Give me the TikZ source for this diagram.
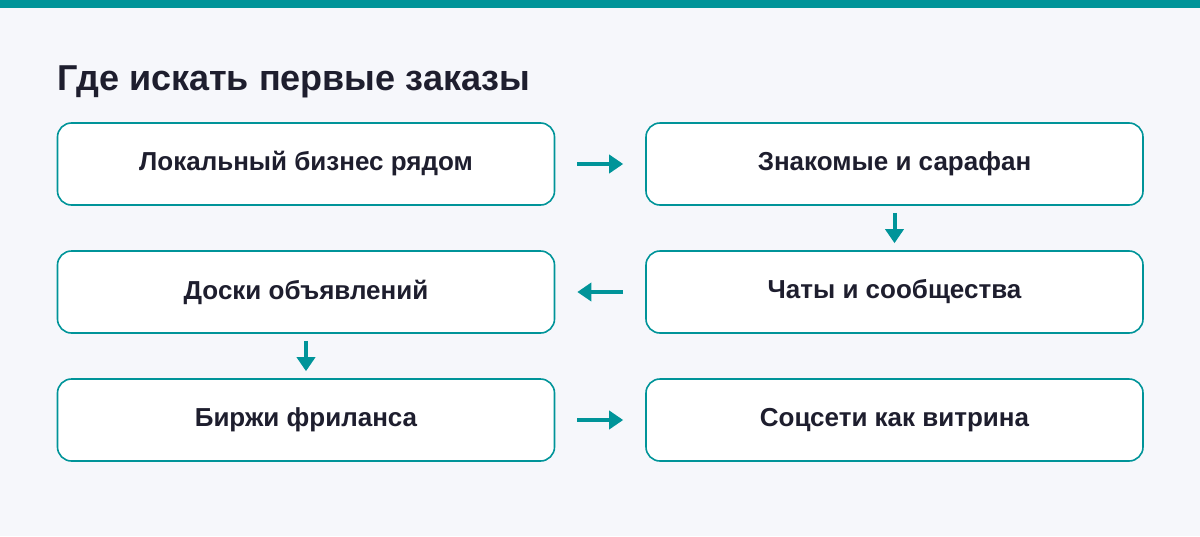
\documentclass[tikz,border=0pt]{standalone}
\usepackage{fontspec}
\setmainfont{Liberation Sans}
\usetikzlibrary{arrows.meta}
\definecolor{teal1}{HTML}{009499}
\definecolor{bg}{HTML}{F6F7FB}
\definecolor{ink}{HTML}{1E1E2E}
\begin{document}
\begin{tikzpicture}[x=1pt,y=-1pt,
  box/.style={draw=teal1,line width=1.6pt,fill=white,rounded corners=14pt,minimum width=497pt,minimum height=82pt,inner sep=0pt,font=\fontsize{26}{30}\selectfont\bfseries,text=ink},
  arr/.style={teal1,line width=4pt,-{Triangle[length=14pt,width=18pt]}}]
\fill[bg] (0,0) rectangle (1200,536);
\useasboundingbox (0,0) rectangle (1200,536);
\fill[teal1] (0,0) rectangle (1200,8);
\node[anchor=base west,font=\fontsize{36}{42}\selectfont\bfseries,text=ink,inner sep=0pt] (title) at (57,90) {Где искать первые заказы};
\node[box] (a) at (306,164) {Локальный бизнес рядом};
\node[box] (b) at (894.5,164) {Знакомые и сарафан};
\node[box] (c) at (894.5,292) {Чаты и сообщества};
\node[box] (d) at (306,292) {Доски объявлений};
\node[box] (e) at (306,420) {Биржи фриланса};
\node[box] (f) at (894.5,420) {Соцсети как витрина};
\draw[arr] ([xshift=22pt]a.east) -- ([xshift=-22pt]b.west);
\draw[arr] ([yshift=-7pt]b.south) -- ([yshift=7pt]c.north);
\draw[arr] ([xshift=-22pt]c.west) -- ([xshift=22pt]d.east);
\draw[arr] ([yshift=-7pt]d.south) -- ([yshift=7pt]e.north);
\draw[arr] ([xshift=22pt]e.east) -- ([xshift=-22pt]f.west);
\end{tikzpicture}
\end{document}
